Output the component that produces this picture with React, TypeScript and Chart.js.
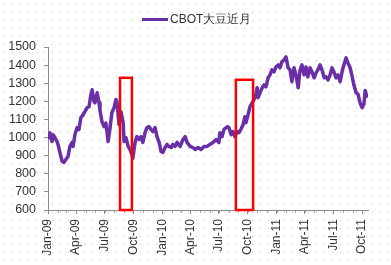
import React, { useEffect, useRef } from 'react';
import { Chart, registerables } from 'chart.js';

Chart.register(...registerables);

const seriesName = 'CBOT大豆近月';

// days since 2009-01-01
const dayOffsets = [
  3, 6, 13, 16, 22, 29, 32, 38, 45, 51, 57, 64, 70, 77, 80, 86, 93, 99, 105, 112,
  118, 125, 131, 137, 141, 147, 150, 157, 163, 166, 172, 179, 185, 192, 198, 204, 211, 217, 220, 227,
  233, 240, 243, 249, 256, 262, 268, 271, 278, 284, 291, 297, 303, 310, 316, 323, 329, 335, 342, 348,
  355, 361, 367, 374, 380, 386, 393, 399, 406, 412, 422, 431, 438, 444, 454, 463, 470, 479, 489, 498,
  508, 517, 527, 537, 546, 549, 556, 562, 572, 578, 585, 591, 597, 604, 610, 616, 623, 629, 632, 639,
  645, 652, 658, 664, 668, 671, 677, 684, 690, 696, 703, 709, 715, 722, 728, 735, 741, 747, 754, 760,
  767, 773, 779, 786, 792, 799, 805, 811, 818, 824, 830, 837, 843, 850, 856, 862, 869, 875, 882, 888,
  894, 901, 907, 913, 920, 926, 933, 939, 945, 952, 958, 965, 971, 977, 984, 990, 997, 1003, 1009, 1013,
  1019,
];

const prices = [
  990, 1027, 978, 1016, 1000, 978, 962, 918, 868, 863, 879, 896, 951, 973, 951, 1016, 1055, 1044, 1110, 1126,
  1143, 1165, 1170, 1236, 1264, 1198, 1192, 1247, 1192, 1150, 1090, 1060, 1080, 978, 1050, 1137, 1165, 1210, 1200, 1071,
  1143, 1082, 978, 1000, 951, 934, 907, 885, 973, 1005, 989, 1005, 973, 1027, 1055, 1060, 1044, 1033, 1055, 1005,
  973, 923, 918, 945, 962, 951, 945, 962, 951, 973, 951, 989, 1005, 973, 951, 945, 934, 945, 934, 951,
  951, 962, 973, 989, 973, 1027, 1005, 1044, 1060, 1055, 1016, 1033, 1005, 1033, 1027, 1044, 1071, 1115, 1082, 1126,
  1170, 1192, 1209, 1236, 1275, 1220, 1247, 1275, 1291, 1280, 1330, 1346, 1374, 1363, 1390, 1401, 1385, 1418, 1429, 1445,
  1385, 1374, 1308, 1385, 1346, 1275, 1374, 1401, 1346, 1390, 1335, 1385, 1363, 1330, 1357, 1374, 1401, 1374, 1330, 1335,
  1318, 1346, 1385, 1363, 1330, 1346, 1308, 1363, 1401, 1440, 1412, 1385, 1340, 1290, 1247, 1240, 1190, 1165, 1185, 1260,
  1220,
];

const quarterTickDays = [0, 90, 181, 273, 365, 455, 546, 638, 730, 820, 911, 1003];
const quarterTickLabels = [
  'Jan-09', 'Apr-09', 'Jul-09', 'Oct-09', 'Jan-10', 'Apr-10', 'Jul-10', 'Oct-10', 'Jan-11', 'Apr-11', 'Jul-11', 'Oct-11',
];
const monthTickDays = [
  0, 31, 59, 90, 120, 151, 181, 212, 243, 273, 304, 334, 365, 396, 424, 455, 485, 516, 546, 577, 608, 638, 669, 699,
  730, 761, 789, 820, 850, 881, 911, 942, 973, 1003,
];
const axisEndDay = 1022;
const yMin = 600;
const yMax = 1500;
const yStep = 100;

const highlightStartDays = [230, 600];
const highlightEndDays = [268, 655];
const highlightTops = [1330, 1319];

const LINE_COLOR = '#6a2fa6';
const FONT = '"Liberation Sans", Arial, sans-serif';

const backgroundPlugin = {
  id: 'dotsBg',
  beforeDraw(chart: any) {
    const { ctx, width, height } = chart;
    ctx.save();
    ctx.fillStyle = '#ffffff';
    ctx.fillRect(0, 0, width, height);
    ctx.fillStyle = '#c4c4c4';
    for (let y = 4; y < height; y += 8) {
      for (let x = 4; x < width; x += 8) {
        ctx.fillRect(x, y, 1, 1);
      }
    }
    ctx.restore();
  },
};

const overlayPlugin = {
  id: 'overlay',
  afterDatasetsDraw(chart: any) {
    const { ctx } = chart;
    const xs = chart.scales.x;
    const ys = chart.scales.y;
    ctx.save();
    ctx.strokeStyle = '#8c8c8c';
    ctx.lineWidth = 1;
    const yb = Math.round(ys.getPixelForValue(yMin)) + 0.5;
    monthTickDays.forEach((d) => {
      const px = Math.round(xs.getPixelForValue(d)) + 0.5;
      ctx.beginPath();
      ctx.moveTo(px, yb);
      ctx.lineTo(px, yb + 2);
      ctx.stroke();
    });
    ctx.strokeStyle = '#ff0000';
    ctx.lineWidth = 2.5;
    highlightStartDays.forEach((d0, i) => {
      const x0 = xs.getPixelForValue(d0);
      const x1 = xs.getPixelForValue(highlightEndDays[i]);
      const y0 = ys.getPixelForValue(highlightTops[i]);
      const y1 = ys.getPixelForValue(yMin);
      ctx.strokeRect(x0, y0, x1 - x0, y1 - y0);
    });
    ctx.restore();
  },
  afterDraw(chart: any) {
    const { ctx } = chart;
    ctx.save();
    ctx.strokeStyle = LINE_COLOR;
    ctx.lineWidth = 3;
    ctx.beginPath();
    ctx.moveTo(142, 19.5);
    ctx.lineTo(168, 19.5);
    ctx.stroke();
    ctx.fillStyle = '#333333';
    ctx.font = `12px ${FONT}`;
    ctx.textBaseline = 'middle';
    ctx.textAlign = 'left';
    ctx.fillText(chart.data.datasets[0].label, 170, 19.5);
    ctx.restore();
  },
};

export default function App() {
  const canvasRef = useRef<HTMLCanvasElement | null>(null);

  useEffect(() => {
    if (!canvasRef.current) return;
    const chart = new Chart(canvasRef.current, {
      type: 'line',
      data: {
        datasets: [
          {
            label: seriesName,
            data: dayOffsets.map((d, i) => ({ x: d, y: prices[i] })),
            borderColor: LINE_COLOR,
            backgroundColor: LINE_COLOR,
            borderWidth: 3.5,
            pointRadius: 0,
            tension: 0,
            borderJoinStyle: 'round',
          },
        ],
      },
      options: {
        animation: false,
        responsive: false,
        devicePixelRatio: 1,
        layout: { padding: { top: 47, right: 23, left: 0, bottom: 0 } },
        plugins: {
          legend: { display: false },
          tooltip: { enabled: false },
        },
        scales: {
          x: {
            type: 'linear',
            min: 0,
            max: axisEndDay,
            afterFit(scale: any) {
              scale.height = 55;
            },
            afterBuildTicks(scale: any) {
              scale.ticks = quarterTickDays.map((v) => ({ value: v }));
            },
            ticks: {
              autoSkip: false,
              minRotation: 90,
              maxRotation: 90,
              padding: 5,
              color: '#333333',
              font: { family: FONT, size: 12 },
              callback: (v: any) => {
                const i = quarterTickDays.indexOf(Number(v));
                return i >= 0 ? quarterTickLabels[i] : '';
              },
            },
            grid: { drawOnChartArea: false, drawTicks: true, tickLength: 4, color: '#8c8c8c' },
            border: { display: true, color: '#8c8c8c' },
          },
          y: {
            min: yMin,
            max: yMax,
            afterFit(scale: any) {
              scale.width = 48;
            },
            ticks: {
              stepSize: yStep,
              padding: 8,
              color: '#333333',
              font: { family: FONT, size: 12.5 },
              callback: (v: any) => String(v),
            },
            grid: { drawOnChartArea: false, drawTicks: true, tickLength: 4, color: '#8c8c8c' },
            border: { display: true, color: '#8c8c8c' },
          },
        },
      },
      plugins: [backgroundPlugin, overlayPlugin],
    });
    return () => chart.destroy();
  }, []);

  return (
    <div style={{ position: 'fixed', left: 0, top: 0, width: 391, height: 265 }}>
      <canvas ref={canvasRef} width={391} height={265} />
    </div>
  );
}
